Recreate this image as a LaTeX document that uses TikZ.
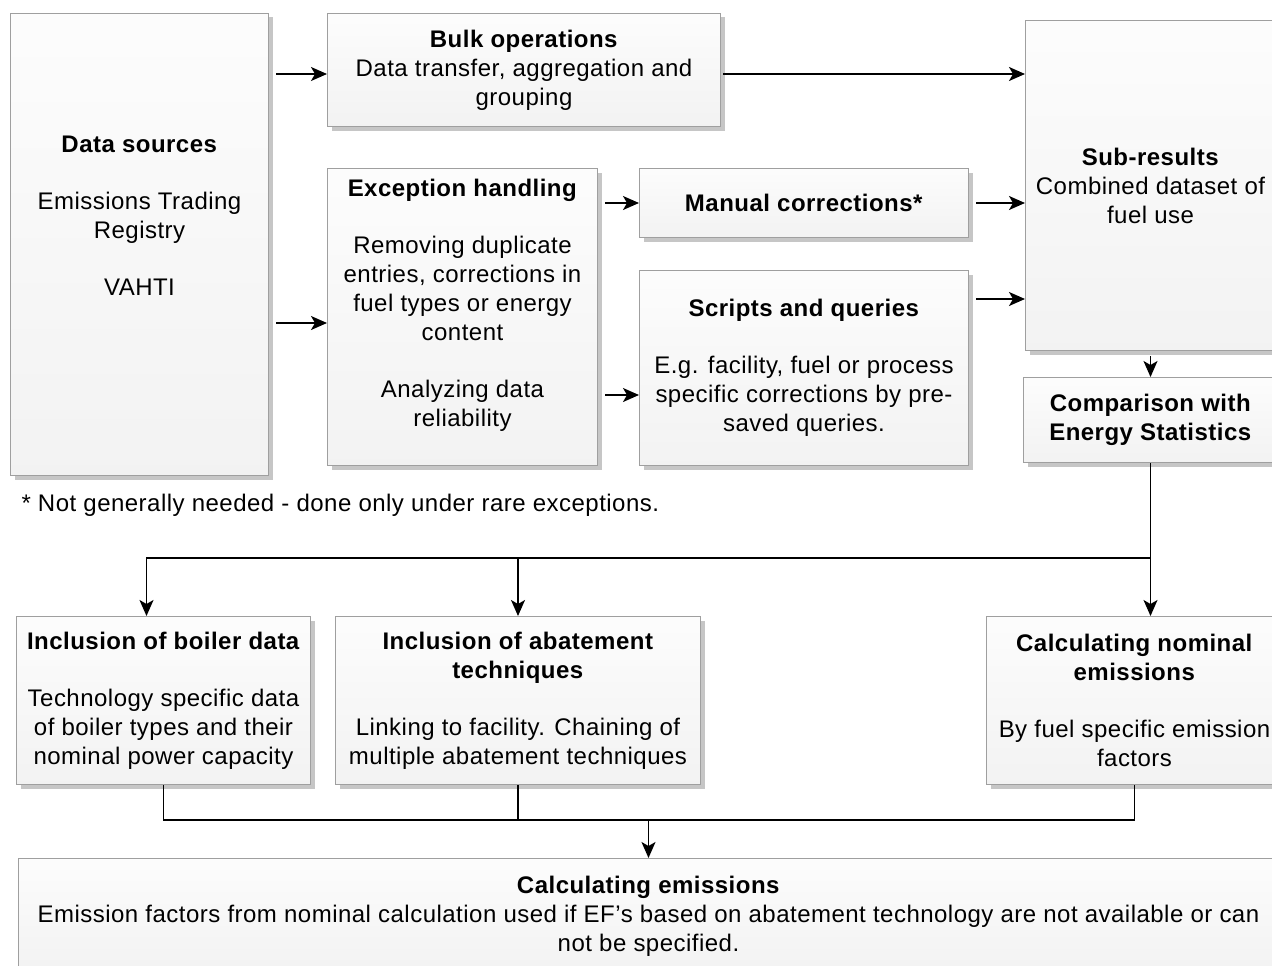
\documentclass[tikz,border=0pt]{standalone}
\usepackage{fontspec}
\setmainfont{Liberation Sans}[LetterSpace=2]
\usetikzlibrary{arrows.meta,shadows,calc}

\tikzset{
  box/.style={draw=gray!75, line width=1pt, top color=gray!2, bottom color=gray!10,
    align=center, inner sep=0pt, anchor=north west,
    drop shadow={shadow xshift=4pt, shadow yshift=-4pt, fill=gray!45, opacity=1}},
  arr/.style={-{Stealth[length=16pt,width=14pt,inset=4pt]}, line width=1.5pt},
  con/.style={line width=1.5pt},
}

\begin{document}
\begin{tikzpicture}[x=1pt, y=-1pt, every node/.style={font=\fontsize{24}{29}\selectfont}]
  \useasboundingbox (0,0) rectangle (1272,966);
  \clip (0,0) rectangle (1272,966);

  % first row
  \node[box, minimum width=258pt, minimum height=462pt] (src) at (10,13)
    {\textbf{Data sources}\\[28pt]Emissions Trading\\Registry\\[28pt]VAHTI\\[20pt]\strut};
  \node[box, minimum width=393pt, minimum height=113pt] (bulk) at (327,13)
    {\textbf{Bulk operations}\\Data transfer, aggregation and\\grouping};
  \node[box, minimum width=270pt, minimum height=297pt] (exc) at (327,168)
    {\textbf{Exception handling}\\[28pt]Removing duplicate\\entries, corrections in\\fuel types or energy\\content\\[28pt]Analyzing data\\reliability\\[-9pt]\strut};
  \node[box, minimum width=329pt, minimum height=69pt] (man) at (639,168)
    {\textbf{Manual corrections*}};
  \node[box, minimum width=329pt, minimum height=195pt] (scr) at (639,270)
    {\textbf{Scripts and queries}\\[28pt]E.g. facility, fuel or process\\specific corrections by pre-\\saved queries.};
  \node[box, minimum width=250pt, minimum height=330pt] (sub) at (1025,20)
    {\textbf{Sub-results}\\Combined dataset of\\fuel use};
  \node[box, minimum width=254pt, minimum height=85pt] (comp) at (1023,377)
    {\textbf{Comparison with}\\\textbf{Energy Statistics}};

  \node[anchor=west] (note) at (18,505)
    {* Not generally needed - done only under rare exceptions.};

  % second row
  \node[box, minimum width=294pt, minimum height=168pt] (boil) at (16,616)
    {\textbf{Inclusion of boiler data}\\[28pt]Technology specific data\\of boiler types and their\\nominal power capacity};
  \node[box, minimum width=365pt, minimum height=168pt] (abat) at (335,616)
    {\textbf{Inclusion of abatement}\\\textbf{techniques}\\[28pt]Linking to facility. Chaining of\\multiple abatement techniques};
  \node[box, minimum width=296pt, minimum height=168pt] (nom) at (986,616)
    {\textbf{Calculating nominal}\\\textbf{emissions}\\[28pt]By fuel specific emission\\factors};

  % last row
  \node[box, minimum width=1260pt, minimum height=115pt] (calc) at (18,858)
    {\textbf{Calculating emissions}\\Emission factors from nominal calculation used if  EF's based on abatement technology are not available or can\\not be specified.};

  % connectors
  \coordinate (bulkin) at ([yshift=-4pt]bulk.west);
  \coordinate (excin) at ([yshift=-6pt]exc.west);
  \coordinate (scrin) at ([yshift=-27pt]scr.west);
  \coordinate (scrout) at ([yshift=-29pt]scr.north east);
  \coordinate (split) at ($(comp.south)+(0,95)$);
  \coordinate (join) at ($(calc.north)+(0,-38)$);

  \draw[arr, shorten <=7pt] (src.east |- bulkin) -- (bulkin);
  \draw[arr, shorten <=7pt] (src.east |- excin) -- (excin);
  \draw[arr, shorten <=2pt] (bulkin -| bulk.east) -- (bulkin -| sub.west);
  \draw[arr, shorten <=7pt] (exc.east |- man) -- (man.west);
  \draw[arr, shorten <=7pt] (exc.east |- scrin) -- (scrin);
  \draw[arr, shorten <=7pt] (man.east) -- (man.east -| sub.west);
  \draw[arr, shorten <=7pt] (scrout) -- (scrout -| sub.west);
  \draw[arr, shorten <=5pt] (sub.south) -- (comp.north);

  \draw[arr] (comp.south) -- (comp.south |- nom.north);
  \draw[arr] (split) -| ([xshift=-17pt]boil.north);
  \draw[arr] (split) -| (abat.north);

  \draw[con] (boil.south) |- (join);
  \draw[con] (abat.south) -- (abat.south |- join);
  \draw[con] (nom.south) |- (join);
  \draw[arr] (join) -- (calc.north);
\end{tikzpicture}
\end{document}
